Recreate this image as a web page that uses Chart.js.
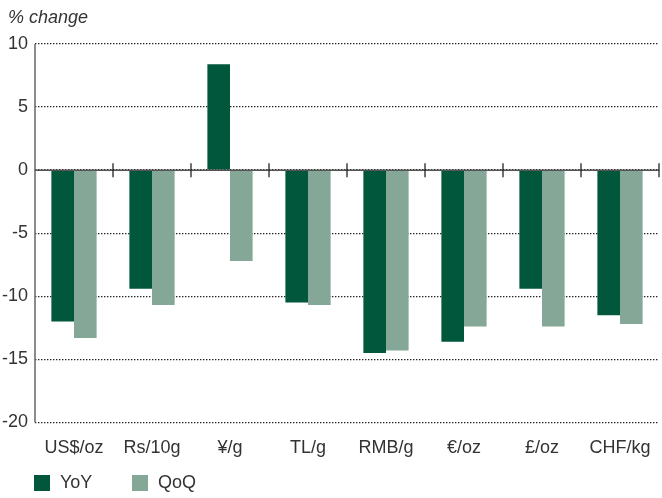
<!DOCTYPE html>
<html>
<head>
<meta charset="utf-8">
<script src="https://cdn.jsdelivr.net/npm/chart.js@4"></script>
<style>
html,body{margin:0;padding:0;background:#fff;}
#wrap{width:662px;height:498px;position:relative;}
</style>
</head>
<body>
<div id="wrap"><canvas id="c" width="662" height="498"></canvas></div>
<script>
const categories = ['US$/oz','Rs/10g','¥/g','TL/g','RMB/g','€/oz','£/oz','CHF/kg'];
const yoyValues = [-12.0, -9.4, 8.4, -10.5, -14.5, -13.6, -9.4, -11.5];
const qoqValues = [-13.3, -10.7, -7.2, -10.7, -14.3, -12.4, -12.4, -12.2];
const seriesNames = ['YoY','QoQ'];
const seriesColors = ['#00573b','#84a798'];
const yTicks = [-20,-15,-10,-5,0,5,10];
const titleText = '% change';

const FONT = "'Liberation Sans', Arial, sans-serif";
const TXT = '#333333';

const axisPlugin = {
  id: 'axisExtras',
  afterDatasetsDraw(chart) {
    const {ctx, chartArea, scales} = chart;
    const x = scales.x, y = scales.y;
    const y0 = y.getPixelForValue(0);
    ctx.save();
    ctx.strokeStyle = '#666666';
    ctx.lineWidth = 1.5;
    ctx.beginPath();
    ctx.moveTo(chartArea.left, y.getPixelForValue(10));
    ctx.lineTo(chartArea.left, y.getPixelForValue(-20));
    ctx.stroke();
    ctx.strokeStyle = '#555555';
    ctx.lineWidth = 1.5;
    ctx.beginPath();
    ctx.moveTo(chartArea.left, y0);
    ctx.lineTo(chartArea.right, y0);
    ctx.stroke();
    ctx.strokeStyle = '#222222';
    ctx.lineWidth = 1.3;
    const n = categories.length;
    for (let i = 1; i <= n; i++) {
      const bx = i < n ? (x.getPixelForValue(i - 1) + x.getPixelForValue(i)) / 2 : chartArea.right;
      ctx.beginPath();
      ctx.moveTo(bx, y0 - 7);
      ctx.lineTo(bx, y0 + 7);
      ctx.stroke();
    }
    ctx.restore();
  },
  afterDraw(chart) {
    const {ctx, chartArea} = chart;
    ctx.save();
    // title
    ctx.font = 'italic 18px ' + FONT;
    ctx.textBaseline = 'middle';
    ctx.textAlign = 'left';
    ctx.fillStyle = TXT;
    ctx.fillText(titleText, 8, 18);
    // legend
    ctx.font = '18px ' + FONT;
    const boxTop = chart.height - 23;
    const xs = [chartArea.left - 1, chartArea.left + 97];
    chart.data.datasets.forEach((ds, i) => {
      ctx.fillStyle = ds.backgroundColor;
      ctx.fillRect(xs[i], boxTop, 16, 16);
      ctx.fillStyle = TXT;
      ctx.fillText(ds.label, xs[i] + 26, boxTop + 8.5);
    });
    ctx.restore();
  }
};

new Chart(document.getElementById('c'), {
  type: 'bar',
  data: {
    labels: categories,
    datasets: [
      { label: seriesNames[0], data: yoyValues, backgroundColor: seriesColors[0], borderWidth: 0 },
      { label: seriesNames[1], data: qoqValues, backgroundColor: seriesColors[1], borderWidth: 0 }
    ]
  },
  options: {
    responsive: false,
    animation: false,
    devicePixelRatio: 1,
    layout: { padding: { left: 0, right: 3, top: 44, bottom: 32 } },
    datasets: { bar: { categoryPercentage: 0.58, barPercentage: 1.0 } },
    plugins: {
      title: { display: false },
      legend: { display: false },
      tooltip: { enabled: false }
    },
    scales: {
      x: {
        grid: { display: false },
        border: { display: false },
        ticks: { color: TXT, font: { family: FONT, size: 18 }, padding: 7, maxRotation: 0 }
      },
      y: {
        min: -20,
        max: 10,
        afterBuildTicks(scale) { scale.ticks = yTicks.map(v => ({ value: v })); },
        afterFit(scale) { scale.width = 35; },
        grid: { color: '#222222', lineWidth: 1.3, drawTicks: false },
        border: { display: false, dash: [1.4, 1.6] },
        ticks: { color: TXT, font: { family: FONT, size: 18 }, padding: 7 }
      }
    }
  },
  plugins: [axisPlugin]
});
</script>
</body>
</html>
